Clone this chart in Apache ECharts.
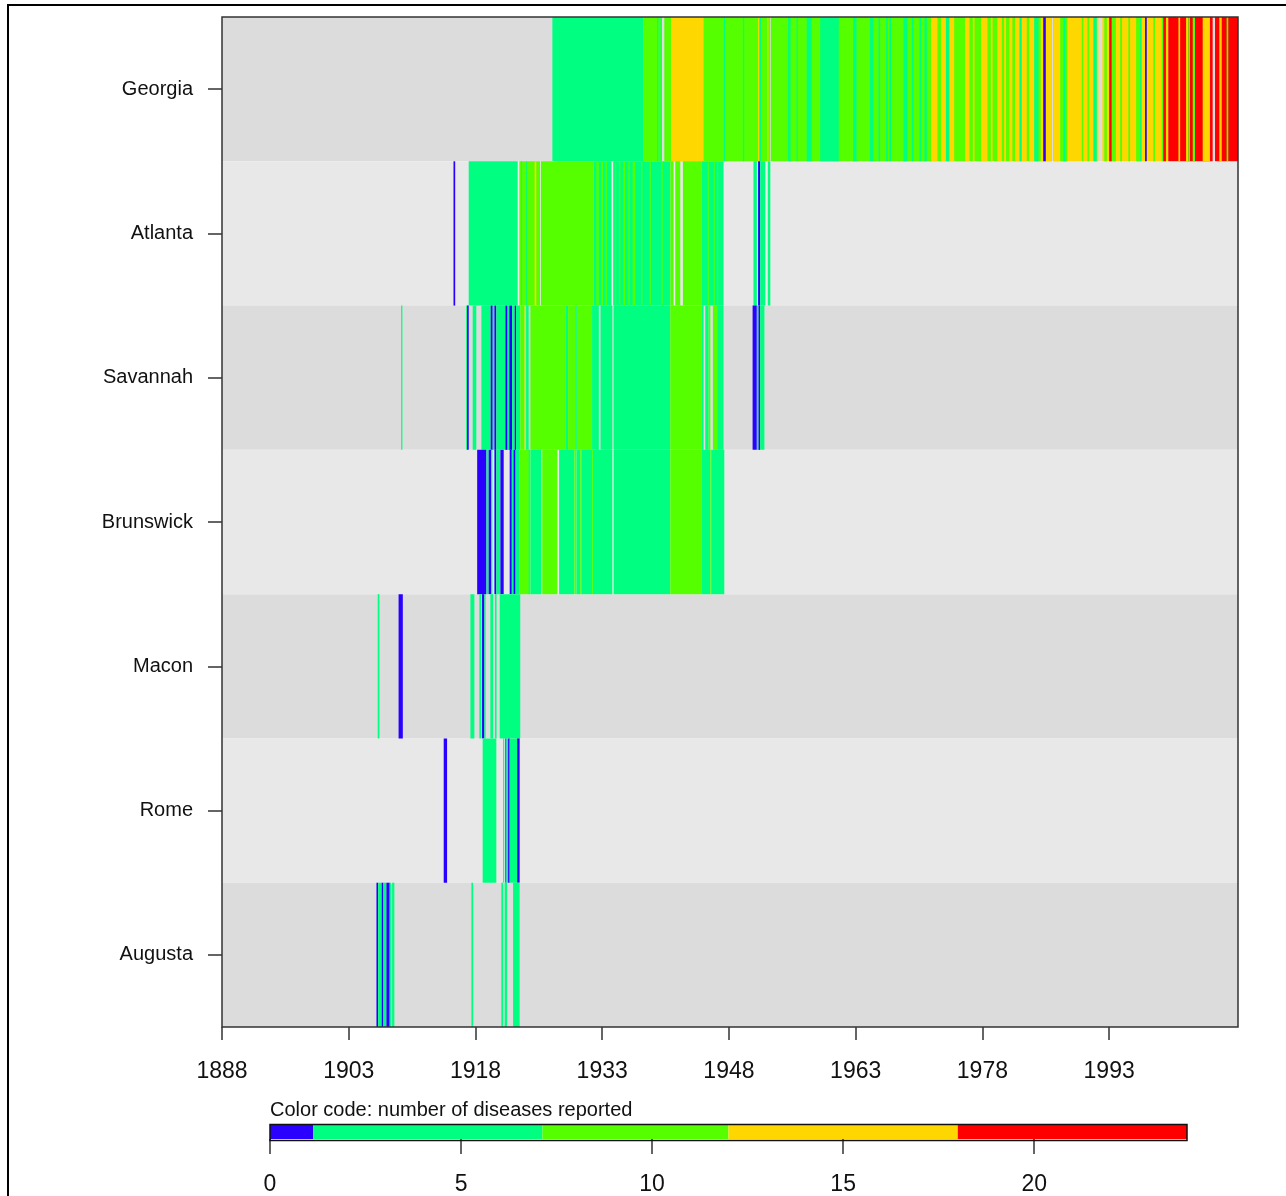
<!DOCTYPE html>
<html>
<head>
<meta charset="utf-8">
<title>Disease reports by city</title>
<script src="https://cdn.jsdelivr.net/npm/echarts@6/dist/echarts.min.js"></script>
<style>
  html, body { margin: 0; padding: 0; background: #fff; }
  #chart { width: 1286px; height: 1196px; }
</style>
</head>
<body>
<div id="chart"></div>
<script>
const cities = ['Georgia', 'Atlanta', 'Savannah', 'Brunswick', 'Macon', 'Rome', 'Augusta'];
const yearTicks = [1888, 1903, 1918, 1933, 1948, 1963, 1978, 1993];
const yearMin = 1888;
const yearMax = 2008.25;

// color code breaks (number of diseases reported) and their colours
const legendBreaks = [0, 1.13, 7.13, 12, 18, 24];
const legendColors = ['#2a00ff', '#00ff80', '#55ff00', '#ffd700', '#ff0000'];
const legendTicks = [0, 5, 10, 15, 20];

// each entry: [from year, to year, number of diseases reported]
const georgia = [
  [1927.1, 1937.86, 4],
  [1937.86, 1940.05, 9], [1940.35, 1952.85, 9], [1952.95, 1986.2, 9], [1986.4, 1987.2, 9],
  [1987.2, 1991.73, 15], [1992.2, 2000.0, 15],
  [2000.0, 2005.25, 20], [2005.53, 2008.25, 20],
  [1939.5, 1939.65, 4], [1939.9, 1940.05, 4], [1947.4, 1947.55, 4], [1949.65, 1949.8, 4], [1951.65, 1951.8, 4],
  [1955.0, 1955.3, 4], [1956.0, 1956.15, 4], [1957.2, 1957.8, 4], [1958.8, 1961.0, 4], [1962.7, 1963.1, 4],
  [1964.7, 1965.1, 4], [1965.7, 1965.9, 4], [1966.6, 1966.8, 4], [1967.0, 1967.2, 4], [1968.66, 1969.13, 4],
  [1969.65, 1969.84, 4], [1970.55, 1970.75, 4], [1971.14, 1971.42, 4], [1973.67, 1974.1, 4], [1982.38, 1982.66, 4],
  [1984.12, 1984.63, 4],
  [1941.14, 1945.0, 15], [1951.45, 1951.55, 15], [1952.55, 1952.65, 15], [1971.93, 1972.68, 15], [1973.12, 1973.67, 15],
  [1974.1, 1974.66, 15], [1975.96, 1976.47, 15], [1976.87, 1977.06, 15], [1977.85, 1978.6, 15], [1979.0, 1979.2, 15],
  [1979.78, 1980.3, 15], [1980.57, 1980.8, 15], [1981.2, 1981.55, 15], [1981.87, 1982.38, 15], [1982.66, 1983.25, 15],
  [1983.56, 1984.12, 15], [1984.9, 1985.2, 15], [1985.5, 1986.2, 15], [1986.4, 1987.2, 15],
  [1987.2, 1988.06, 9], [1989.76, 1989.96, 9], [1990.43, 1990.66, 9], [1992.43, 1992.72, 9], [1993.3, 1993.8, 9],
  [1994.3, 1994.53, 9], [1995.27, 1995.48, 9], [1996.19, 1996.66, 9], [1998.23, 1998.43, 9], [1999.22, 1999.4, 9],
  [1987.6, 1987.8, 4], [1991.13, 1991.54, 4], [1996.66, 1996.85, 4],
  [1993.0, 1993.3, 20], [1999.4, 1999.72, 20],
  [2001.2, 2001.4, 15], [2002.1, 2002.37, 15], [2004.07, 2004.93, 15], [2006.04, 2006.32, 15],
  [2002.37, 2002.57, 9], [2002.89, 2003.16, 9], [2006.9, 2007.1, 9],
  [1985.2, 1985.5, 1], [1997.25, 1997.45, 1]
];
const atlanta = [
  [1915.4, 1915.6, 1],
  [1917.2, 1923.0, 4],
  [1923.2, 1925.65, 9], [1923.4, 1923.5, 4], [1924.0, 1924.1, 4], [1925.0, 1925.2, 15],
  [1925.75, 1932.0, 9],
  [1932.0, 1934.1, 4], [1934.3, 1941.06, 4],
  [1932.3, 1932.6, 9], [1932.9, 1933.1, 9], [1933.4, 1933.55, 9], [1934.5, 1934.65, 9], [1935.0, 1935.15, 9],
  [1935.5, 1935.7, 9], [1936.1, 1936.25, 9], [1936.6, 1936.9, 9], [1937.6, 1937.75, 9], [1938.6, 1938.75, 9],
  [1940.0, 1940.15, 9],
  [1941.06, 1941.45, 9], [1941.65, 1942.24, 9], [1942.55, 1944.8, 9],
  [1944.8, 1947.36, 4], [1945.5, 1945.6, 9], [1946.2, 1946.3, 9], [1946.6, 1946.7, 9],
  [1950.9, 1951.3, 4], [1951.45, 1951.7, 1], [1951.7, 1952.3, 4], [1952.6, 1952.9, 4]
];
const savannah = [
  [1909.2, 1909.35, 4],
  [1916.9, 1917.0, 4], [1917.0, 1917.2, 1],
  [1917.67, 1918.1, 4],
  [1918.7, 1919.8, 4], [1919.8, 1920.04, 1], [1920.04, 1920.24, 4], [1920.24, 1920.47, 1], [1920.47, 1921.54, 4],
  [1921.54, 1921.8, 1], [1921.8, 1922.0, 4], [1922.0, 1922.33, 1], [1922.33, 1922.64, 4], [1922.64, 1922.8, 1],
  [1922.8, 1923.3, 4],
  [1923.3, 1923.82, 9], [1923.82, 1923.99, 15], [1923.99, 1924.3, 4],
  [1924.5, 1928.64, 9], [1928.64, 1928.96, 4], [1928.96, 1929.8, 9], [1929.8, 1930.0, 4], [1930.0, 1931.8, 9],
  [1931.8, 1932.6, 4], [1932.8, 1934.2, 4], [1934.35, 1941.06, 4],
  [1941.06, 1944.8, 9],
  [1944.8, 1945.0, 4], [1945.2, 1945.6, 4], [1945.6, 1945.8, 9], [1946.1, 1946.6, 9], [1946.6, 1947.36, 4],
  [1950.8, 1951.3, 1], [1951.3, 1951.5, 4], [1951.5, 1951.7, 1], [1951.7, 1952.2, 4]
];
const brunswick = [
  [1918.2, 1919.3, 1], [1919.3, 1919.56, 4], [1919.56, 1919.85, 1], [1919.85, 1920.0, 4],
  [1920.24, 1920.47, 1], [1920.47, 1920.95, 4], [1920.95, 1921.34, 1],
  [1922.05, 1922.3, 1], [1922.3, 1922.5, 4], [1922.5, 1922.75, 1], [1922.75, 1923.2, 4],
  [1923.2, 1924.5, 9], [1924.3, 1924.4, 4],
  [1924.5, 1925.8, 4],
  [1925.9, 1927.7, 9],
  [1927.9, 1929.7, 4], [1929.7, 1929.95, 9], [1929.95, 1930.4, 4], [1930.4, 1930.6, 9], [1930.6, 1931.8, 4],
  [1931.8, 1931.9, 9],
  [1931.9, 1934.2, 4], [1934.35, 1941.06, 4],
  [1941.06, 1944.8, 9],
  [1944.8, 1945.8, 4], [1945.8, 1945.9, 9], [1945.9, 1947.45, 4]
];
const macon = [
  [1906.43, 1906.63, 4],
  [1908.9, 1909.4, 1],
  [1917.4, 1917.87, 4],
  [1918.46, 1918.7, 4], [1918.78, 1919.05, 1], [1919.05, 1919.2, 4],
  [1919.76, 1920.08, 4], [1920.3, 1920.5, 4],
  [1920.87, 1923.3, 4]
];
const rome = [
  [1914.24, 1914.64, 1],
  [1918.85, 1920.47, 4],
  [1921.27, 1921.4, 4], [1921.54, 1921.66, 1], [1921.66, 1921.86, 4], [1921.86, 1922.05, 1],
  [1922.05, 1922.93, 4], [1922.93, 1923.23, 1]
];
const augusta = [
  [1906.28, 1906.48, 1], [1906.48, 1906.9, 4], [1906.9, 1907.1, 1], [1907.1, 1907.46, 4], [1907.46, 1907.85, 1],
  [1907.85, 1908.0, 4], [1908.13, 1908.4, 4],
  [1917.52, 1917.72, 4],
  [1921.06, 1921.27, 4], [1921.45, 1921.74, 4],
  [1922.45, 1923.23, 4]
];

const rows = [georgia, atlanta, savannah, brunswick, macon, rome, augusta];
const FONT = "'Liberation Sans', Arial, sans-serif";

const colorFor = (v) => {
  for (let i = 0; i < legendColors.length; i++) {
    if (v < legendBreaks[i + 1]) return legendColors[i];
  }
  return legendColors[legendColors.length - 1];
};

// [from, to, row, count]
const stripeData = [];
rows.forEach((segs, r) => {
  segs.forEach((s) => stripeData.push([s[0], s[1], r, s[2]]));
});

const legendData = legendColors.map((c, i) => [legendBreaks[i], legendBreaks[i + 1], 0, i]);

const renderStripe = (params, api) => {
  const a = api.coord([api.value(0), api.value(2)]);
  const b = api.coord([api.value(1), api.value(2)]);
  const h = api.size([0, 1])[1];
  return {
    type: 'rect',
    shape: { x: a[0], y: a[1] - h / 2, width: Math.max(b[0] - a[0], 1), height: h },
    style: { fill: colorFor(api.value(3)) }
  };
};

const renderLegend = (params, api) => {
  const a = api.coord([api.value(0), 0]);
  const b = api.coord([api.value(1), 0]);
  const h = api.size([0, 1])[1];
  return {
    type: 'rect',
    shape: { x: a[0], y: a[1] - h / 2, width: b[0] - a[0], height: h },
    style: { fill: legendColors[api.value(3)] }
  };
};

const chart = echarts.init(document.getElementById('chart'), null, { renderer: 'canvas' });

const option = {
  backgroundColor: '#fff',
  animation: false,
  title: {
    text: 'Color code: number of diseases reported',
    left: 270,
    top: 1100,
    padding: 0,
    textStyle: { fontFamily: FONT, fontSize: 20, fontWeight: 'normal', color: '#111' }
  },
  grid: [
    { left: 222, right: 48, top: 17, bottom: 169 },
    { left: 270, right: 99, top: 1124.5, height: 16 }
  ],
  xAxis: [
    {
      type: 'value',
      gridIndex: 0,
      min: yearMin,
      max: yearMax,
      axisLine: { show: false },
      splitLine: { show: false },
      axisTick: { show: true, length: 13, customValues: yearTicks, lineStyle: { color: '#333', width: 1.5 } },
      axisLabel: {
        customValues: yearTicks,
        formatter: (v) => String(v),
        margin: 33,
        fontFamily: FONT,
        fontSize: 23,
        color: '#111'
      }
    },
    {
      type: 'value',
      gridIndex: 1,
      min: 0,
      max: 24,
      interval: 5,
      axisLine: { show: false },
      splitLine: { show: false },
      axisTick: { show: true, length: 15, lineStyle: { color: '#333', width: 1.5 } },
      axisLabel: { margin: 34, fontFamily: FONT, fontSize: 23, color: '#111', showMaxLabel: false }
    }
  ],
  yAxis: [
    {
      type: 'category',
      gridIndex: 0,
      data: cities,
      inverse: true,
      axisLine: { show: false },
      axisTick: { show: true, alignWithLabel: true, length: 14, lineStyle: { color: '#333', width: 1.5 } },
      axisLabel: { margin: 29, fontFamily: FONT, fontSize: 20, color: '#111' },
      splitLine: { show: false },
      splitArea: { show: true, areaStyle: { color: ['#dcdcdc', '#e8e8e8'] } }
    },
    {
      type: 'category',
      gridIndex: 1,
      data: ['legend'],
      show: false
    }
  ],
  series: [
    {
      type: 'custom',
      xAxisIndex: 0,
      yAxisIndex: 0,
      renderItem: renderStripe,
      encode: { x: [0, 1], y: 2 },
      clip: true,
      data: stripeData
    },
    {
      type: 'custom',
      xAxisIndex: 1,
      yAxisIndex: 1,
      renderItem: renderLegend,
      encode: { x: [0, 1], y: 2 },
      data: legendData
    }
  ],
  graphic: [
    // outer figure frame
    { type: 'rect', z: 100, silent: true, shape: { x: 8, y: 5, width: 1300, height: 1300 }, style: { fill: null, stroke: '#000', lineWidth: 2 } },
    // plot box
    { type: 'rect', z: 100, silent: true, shape: { x: 222, y: 17, width: 1016, height: 1010 }, style: { fill: null, stroke: '#333', lineWidth: 1.5 } },
    // colour bar box
    { type: 'rect', z: 100, silent: true, shape: { x: 270, y: 1124.5, width: 917, height: 16 }, style: { fill: null, stroke: '#111', lineWidth: 1.5 } }
  ]
};

chart.setOption(option);
</script>
</body>
</html>
